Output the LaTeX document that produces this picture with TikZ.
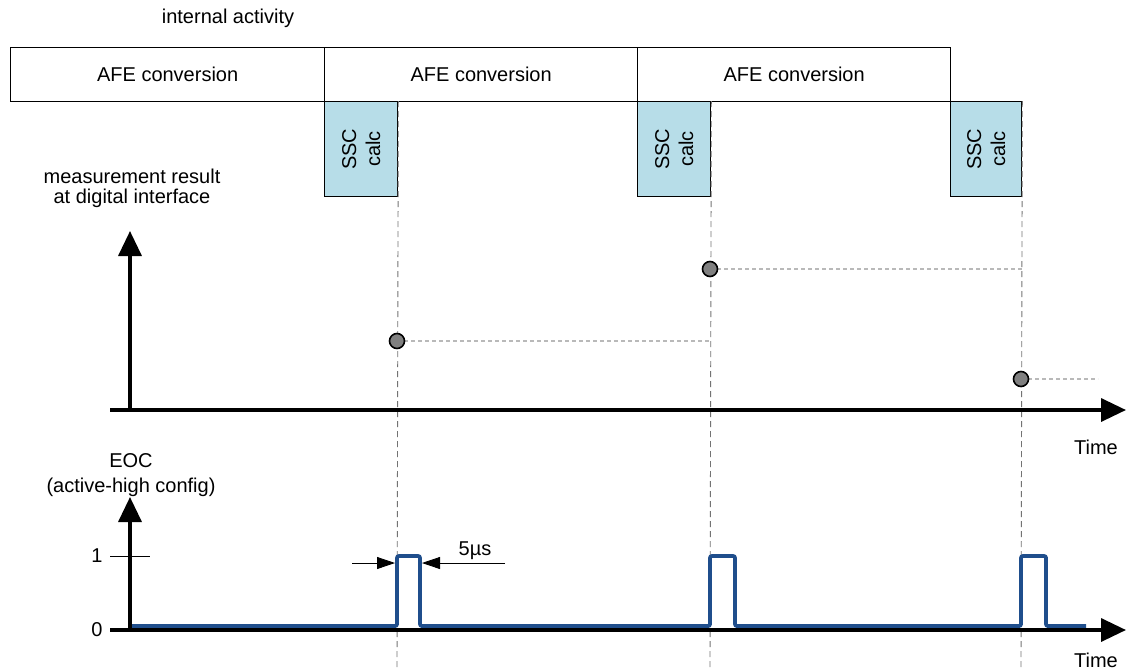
\documentclass[tikz,border=0pt]{standalone}
\usepackage{fontspec}
\setmainfont{Liberation Sans}
\usetikzlibrary{positioning,arrows.meta}
\definecolor{sscfill}{HTML}{B7DDE8}
\definecolor{eocblue}{HTML}{1F4E8C}

\begin{document}
\begin{tikzpicture}[x=1pt,y=-1pt,font=\fontsize{20}{20}\selectfont,
    afebox/.style={draw, line width=1.3pt, minimum height=54pt, inner sep=0pt, anchor=north west},
    sscbox/.style={draw, fill=sscfill, line width=1.3pt, minimum width=73pt, minimum height=95pt, inner sep=0pt, anchor=north west},
    axisline/.style={line width=3.5pt, -{Triangle[length=25pt,width=23pt]}},
    guide/.style={gray!90!black, line width=0.9pt, dash pattern=on 6pt off 4pt},
    level/.style={gray!55, line width=1.6pt, dash pattern=on 4pt off 3pt},
    sample/.style={circle, draw, fill=gray, line width=1.6pt, minimum size=15pt, inner sep=0pt},
    pulse/.style={eocblue, line width=3.8pt, rounded corners=2pt},
    dimline/.style={line width=0.8pt, -{Triangle[length=18pt,width=12pt]}}]

    \useasboundingbox (0,0) rectangle (1128,670);

    % internal activity
    \node (title) at (228,18) {internal activity};
    \node[afebox, minimum width=314pt] (afeA) at (10,47) {AFE conversion};
    \node[afebox, minimum width=313pt] (afeB) at (324,47) {AFE conversion};
    \node[afebox, minimum width=313pt] (afeC) at (637,47) {AFE conversion};
    \node[sscbox] (sscA) at (324,101) {};
    \node[sscbox] (sscB) at (637,101) {};
    \node[sscbox, minimum width=71pt] (sscC) at (950,101) {};
    \node[rotate=90, align=center, font=\fontsize{20}{24}\selectfont] at (sscA) {SSC\\calc};
    \node[rotate=90, align=center, font=\fontsize{20}{24}\selectfont] at (sscB) {SSC\\calc};
    \node[rotate=90, align=center, font=\fontsize{20}{24}\selectfont] at (sscC) {SSC\\calc};

    % guides down to the EOC axis
    \coordinate (endA) at (397,668);
    \coordinate (endB) at (710,668);
    \coordinate (endC) at (1021,668);
    \draw[guide] (sscA.north east) -- (endA);
    \draw[guide] (sscB.north east) -- (endB);
    \draw[guide] (sscC.north east) -- (endC);

    % measurement result
    \node[align=center] (mlabel) at (132,188) {measurement result\\at digital interface};
    \coordinate (morigin) at (130,410);
    \coordinate (mtop) at (130,231);
    \coordinate (mstart) at (110,410);
    \coordinate (mend) at (1126,410);
    \draw[axisline] (morigin) -- (mtop);
    \draw[axisline] (mstart) -- (mend);
    \node (mtime) at (1096,447) {Time};

    \coordinate (tailC) at (1098,379);
    \draw[level] (397,341) -- (sscB.east |- 0,341);
    \draw[level] (710,269) -- (sscC.east |- 0,269);
    \draw[level] (1021,379) -- (tailC);
    \node[sample] (dotA) at (397,341) {};
    \node[sample] (dotB) at (710,269) {};
    \node[sample] (dotC) at (1021,379) {};

    % EOC
    \node (eoc) at (131,461) {EOC};
    \node (eocnote) at (131,487) {(active-high config)};
    \coordinate (eorigin) at (130,630);
    \coordinate (etop) at (130,497);
    \coordinate (estart) at (110,630);
    \coordinate (eend) at (1126,630);
    \draw[axisline] (eorigin) -- (etop);
    \draw[axisline] (estart) -- (eend);
    \node (etime) at (1096,660) {Time};
    \coordinate (tickL) at (110,556);
    \coordinate (tickR) at (150,556);
    \draw[line width=0.8pt] (tickL) -- (tickR);
    \node[left=4pt of tickL] (one) {1};
    \node[left=4pt of estart] (zero) {0};

    \draw[pulse] (132,626) -- (397,626) -- (397,556) -- (420,556) -- (420,626)
        -- (710,626) -- (710,556) -- (735,556) -- (735,626)
        -- (1021,626) -- (1021,556) -- (1046,556) -- (1046,626) -- (1086,626);

    % pulse width
    \coordinate (dimL) at (352,563);
    \coordinate (dimR) at (505,563);
    \draw[dimline] (dimL) -- (395,563);
    \draw[dimline] (dimR) -- (422,563);
    \node (width) at (475,551) {5µs};

\end{tikzpicture}
\end{document}
